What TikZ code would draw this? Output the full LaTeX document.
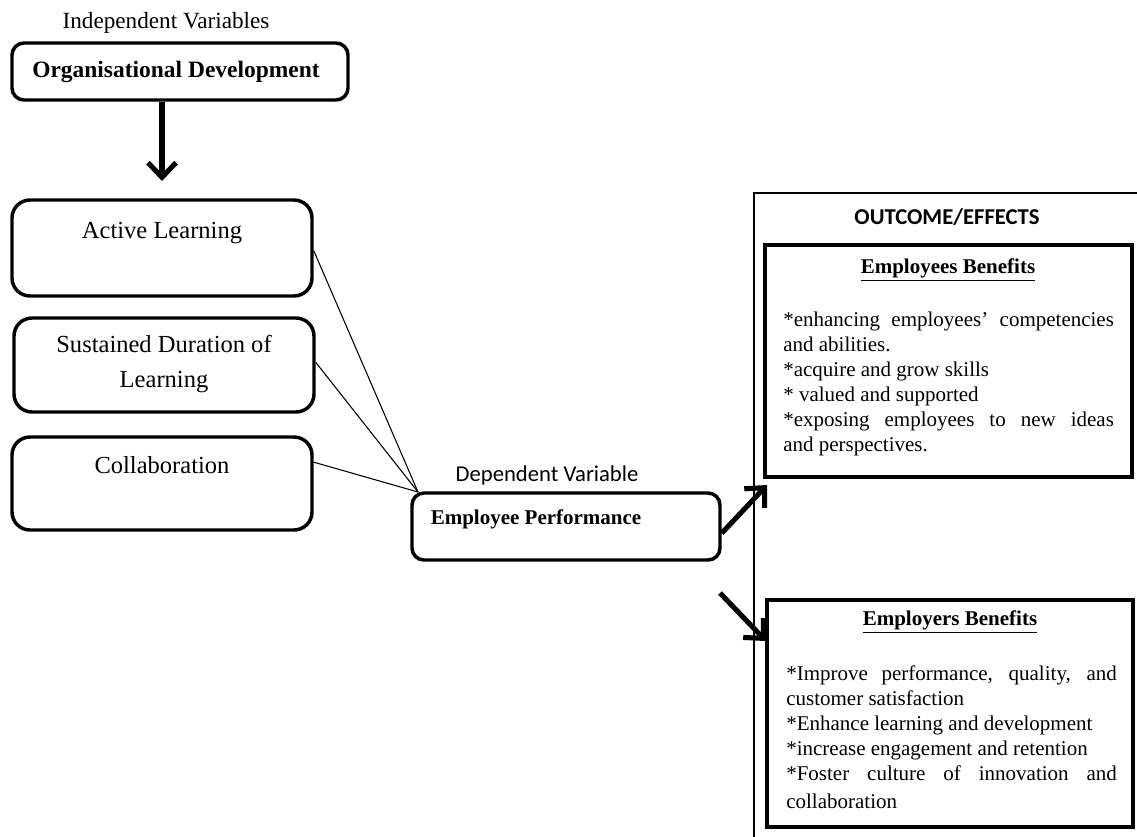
\documentclass[tikz,border=0pt]{standalone}
\usepackage{fontspec}
\setmainfont{Liberation Serif}
\newfontfamily\calibrifont{Carlito}
\usetikzlibrary{arrows.meta,fit}
\newcommand\fsLabel{\fontsize{18.4pt}{26.25pt}\selectfont}
\newcommand\fsHead{\fontsize{17.6pt}{20pt}\selectfont}
\newcommand\fsBody{\fontsize{15.75pt}{18.75pt}\selectfont}
\newcommand\fsCal{\fontsize{17pt}{20pt}\selectfont}
\newcommand\fsInd{\fontsize{17.4pt}{20pt}\selectfont}
\begin{document}
\begin{tikzpicture}[x=0.75pt,y=-0.75pt,
  rboxA/.style={draw, line width=2.6pt, rounded corners=13.5pt, inner sep=0pt},
  rboxB/.style={draw, line width=2.6pt, rounded corners=9pt, inner sep=0pt},
  sbox/.style={draw, line width=2.6pt, inner sep=0pt},
  bigarrow/.style={line width=3.8pt, -{Straight Barb[length=11pt,width=21pt]}},
  thinline/.style={line width=0.8pt},
  txt/.style={inner sep=0pt, anchor=center},
  bodytxt/.style={anchor=north west, inner sep=0pt, text width=248pt, align=justify, font=\fsBody},
]
\fill[white] (0,0) rectangle (1137,836);
\useasboundingbox (0,0) rectangle (1137,836);

% left column
\node[txt, font=\fsInd] (ind) at (166,23) {Independent Variables};
\node[rboxB, fit={(12,43)(348,100)}] (od) {};
\node[txt, font=\fsHead\bfseries] (odt) at (176,72) {Organisational Development};
\coordinate (odtip) at (162,181);
\draw[bigarrow] (odtip |- od.south) -- (odtip);

\node[rboxA, fit={(12,200)(312,296)}] (al) {};
\node[txt, font=\fsLabel] (alt) at (162,233) {Active Learning};
\node[rboxA, fit={(14,318)(314,412)}] (sd) {};
\node[txt, font=\fsLabel, align=center] (sdt) at (164,364) {Sustained Duration of\\Learning};
\node[rboxA, fit={(12,437)(312,530)}] (co) {};
\node[txt, font=\fsLabel] (cot) at (162,465) {Collaboration};

% dependent
\node[txt, font=\fsCal\calibrifont] (dv) at (547,475) {Dependent Variable};
\node[rboxB, fit={(412,493)(720,560)}] (ep) {};
\node[txt, font=\fsBody\bfseries] (ept) at (536,519) {Employee Performance};

\coordinate (conv) at (418,492);
\draw[thinline] ([yshift=-2pt]al.east) -- (conv);
\draw[thinline] ([yshift=2pt]sd.east) -- (conv);
\draw[thinline] ([yshift=16pt]co.east) -- (conv);

% outcome
\node[draw, line width=1pt, inner sep=0pt, fit={(754,193)(1170,870)}] (outer) {};
\node[txt, font=\fsCal\calibrifont\bfseries] (oe) at (947,217) {OUTCOME/EFFECTS};

\node[sbox, fit={(765,245)(1132,477)}] (eb) {};
\node[txt, font=\fsBody\bfseries] (ebh) at (948,270) {\underline{Employees Benefits}};
\node[bodytxt] (ebt) at (783,312) {\makebox[\linewidth][s]{*enhancing employees' competencies}\\
and abilities.\\\relax
{*}acquire and grow skills\\\relax
{*} valued and supported\\\relax
\makebox[\linewidth][s]{*exposing employees to new ideas}\\
and perspectives.};

\node[sbox, fit={(767,600)(1133,827)}] (rb) {};
\node[txt, font=\fsBody\bfseries] (rbh) at (950,622) {\underline{Employers Benefits}};
\node[bodytxt] (rbt) at (786,665) {\makebox[\linewidth][s]{*Improve performance, quality, and}\\
customer satisfaction\\\relax
{*}Enhance learning and development\\\relax
{*}increase engagement and retention\\\relax
\makebox[\linewidth][s]{*Foster culture of innovation and}\\[2.2pt]
collaboration};

% arrows to outcomes
\coordinate (t1) at (767,485);
\draw[bigarrow] ([yshift=-5pt]ep.east) -- (t1);
\coordinate (s2) at (720,593);
\coordinate (t2) at (766,641);
\draw[bigarrow] (s2) -- (t2);
\end{tikzpicture}
\end{document}
